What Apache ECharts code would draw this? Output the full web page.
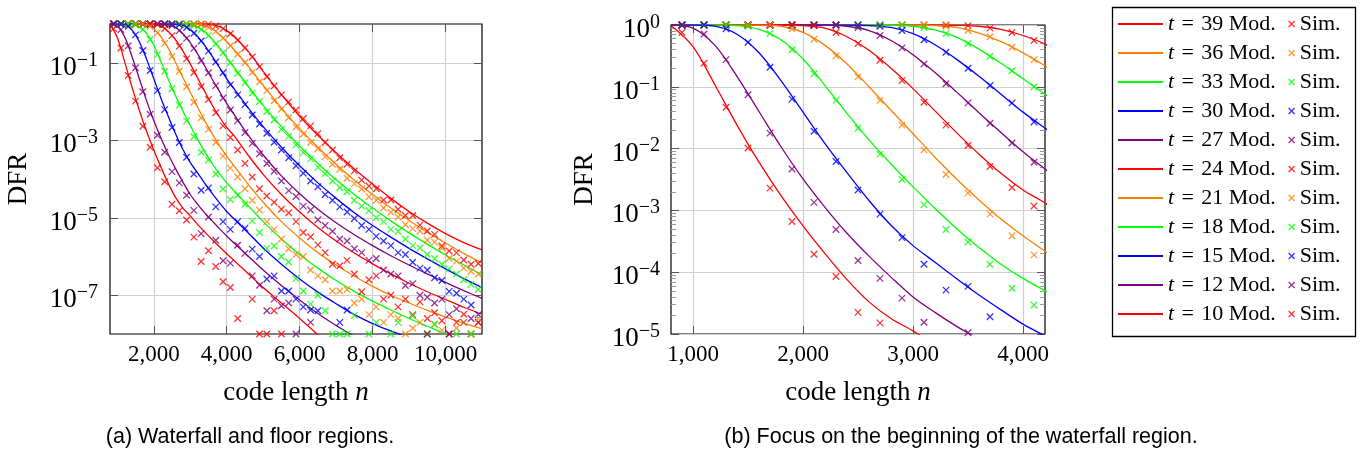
<!DOCTYPE html>
<html><head><meta charset="utf-8">
<script src="https://cdn.jsdelivr.net/npm/echarts@6/dist/echarts.min.js"></script>
<style>html,body{margin:0;padding:0;background:#fff}#c{width:1369px;height:457px}</style>
</head><body><div id="c"></div><script>
// ---------- data (values are log10 of DFR) ----------
const tList = [39, 36, 33, 30, 27, 24, 21, 18, 15, 12, 10];
const nMod = [800,1000,1200,1400,1600,1800,2000,2200,2400,2600,2800,3000,3200,3400,3600,3800,4000,4200,4600,5000,5500,6000,6500,7000,7500,8000,8500,9000,9500,10000,10500,11000];
const nSim = [900,1100,1300,1500,1700,1900,2100,2300,2500,2700,2900,3100,3300,3500,3700,3900,4100,4300,4500,4700,4900,5100,5300,5500,5700,5900,6100,6300,6500,6700,6900,7100,7300,7500,7700,7900,8100,8300,8500,8700,8900,9100,9300,9500,9700,9900,10100,10300,10500,10700,10900];

const mod39 = [0,0,0,0,0,0,0,0,0,0,0,0,0,-0.005,-0.02,-0.07,-0.17,-0.31,-0.72,-1.22,-1.82,-2.38,-2.87,-3.32,-3.74,-4.13,-4.5,-4.84,-5.14,-5.41,-5.64,-5.83];
const mod36 = [0,0,0,0,0,0,0,0,0,0,0,0,-0.01,-0.04,-0.13,-0.27,-0.45,-0.66,-1.1,-1.58,-2.17,-2.7,-3.18,-3.62,-4.03,-4.4,-4.75,-5.07,-5.37,-5.65,-5.92,-6.17];
const mod33 = [0,0,0,0,0,0,0,0,0,0,0,-0.02,-0.08,-0.2,-0.39,-0.62,-0.87,-1.12,-1.62,-2.1,-2.65,-3.15,-3.6,-4.02,-4.4,-4.75,-5.08,-5.39,-5.68,-5.96,-6.22,-6.47];
const mod30 = [0,0,0,0,0,0,0,0,0,-0.01,-0.04,-0.14,-0.32,-0.56,-0.83,-1.12,-1.41,-1.67,-2.18,-2.65,-3.18,-3.66,-4.1,-4.5,-4.87,-5.2,-5.5,-5.79,-6.06,-6.32,-6.57,-6.8];
const mod27 = [0,0,0,0,0,0,0,0,-0.02,-0.09,-0.25,-0.48,-0.77,-1.09,-1.42,-1.74,-2.05,-2.33,-2.88,-3.38,-3.92,-4.38,-4.78,-5.13,-5.44,-5.72,-5.98,-6.22,-6.45,-6.67,-6.88,-7.08];
const mod24 = [0,0,0,0,0,0,-0.01,-0.05,-0.19,-0.41,-0.7,-1.03,-1.39,-1.75,-2.09,-2.4,-2.67,-2.88,-3.4,-3.88,-4.4,-4.85,-5.25,-5.6,-5.91,-6.19,-6.45,-6.69,-6.91,-7.11,-7.31,-7.49];
const mod21 = [0,0,0,0,0,-0.02,-0.12,-0.33,-0.63,-1.0,-1.38,-1.76,-2.14,-2.5,-2.83,-3.14,-3.41,-3.66,-4.15,-4.6,-5.1,-5.52,-5.9,-6.22,-6.51,-6.77,-7.0,-7.2,-7.39,-7.56,-7.72,-7.87];
const mod18 = [0,0,0,-0.01,-0.07,-0.24,-0.55,-0.98,-1.43,-1.86,-2.25,-2.62,-2.97,-3.3,-3.6,-3.87,-4.1,-4.3,-4.7,-5.1,-5.55,-5.95,-6.3,-6.62,-6.9,-7.15,-7.38,-7.6,-7.8,-8.0,-8.2];
const mod15 = [0,0,-0.02,-0.15,-0.45,-0.9,-1.41,-1.92,-2.39,-2.84,-3.24,-3.57,-3.84,-4.11,-4.37,-4.61,-4.84,-5.03,-5.4,-5.78,-6.2,-6.58,-6.92,-7.22,-7.5,-7.73,-7.92,-8.1];
const mod12 = [0,-0.05,-0.33,-0.83,-1.4,-1.97,-2.49,-2.95,-3.37,-3.74,-4.08,-4.4,-4.65,-4.88,-5.08,-5.28,-5.47,-5.65,-6.0,-6.35,-6.75,-7.12,-7.47,-7.78,-8.06];
const mod10 = [-0.01,-0.35,-0.97,-1.62,-2.22,-2.76,-3.25,-3.7,-4.12,-4.48,-4.75,-4.95,-5.17,-5.37,-5.56,-5.75,-5.93,-6.1,-6.45,-6.8,-7.2,-7.6,-8.02];

const sim39 = [0,0,0,0,0,0,0,0,0,0,0,0,0,-0.01,-0.05,-0.12,-0.25,-0.42,-0.62,-0.85,-1.1,-1.36,-1.6,-1.83,-2.01,-2.22,-2.44,-2.63,-2.83,-3.05,-3.25,-3.45,-3.62,-3.79,-4.03,-4.18,-4.25,-4.54,-4.54,-4.78,-4.94,-4.94,-5.19,-5.34,-5.43,-5.73,-5.86,-5.9,-6.09,-6.2,-6.18];
const sim36 = [0,0,0,0,0,0,0,0,0,0,0,0,-0.02,-0.09,-0.19,-0.36,-0.56,-0.78,-1.0,-1.25,-1.49,-1.72,-1.98,-2.2,-2.42,-2.66,-2.84,-3.06,-3.22,-3.43,-3.62,-3.75,-3.98,-4.12,-4.26,-4.46,-4.55,-4.75,-4.86,-4.98,-5.18,-5.28,-5.34,-5.58,-5.63,-5.78,-6.05,-6.12,-6.3,-6.38,-6.45];
const sim33 = [0,0,0,0,0,0,0,0,0,0,0,-0.04,-0.14,-0.30,-0.51,-0.74,-1.0,-1.27,-1.52,-1.78,-2.0,-2.26,-2.47,-2.72,-2.9,-3.12,-3.32,-3.48,-3.7,-3.86,-4.05,-4.22,-4.33,-4.55,-4.7,-4.82,-5.0,-5.1,-5.3,-5.35,-5.55,-5.72,-5.78,-5.95,-6.05,-6.2,-6.32,-6.45,-6.6,-6.72,-6.85];
const sim30 = [0,0,0,0,0,0,0,0,0,-0.02,-0.09,-0.24,-0.44,-0.70,-0.98,-1.26,-1.57,-1.83,-2.08,-2.35,-2.58,-2.82,-3.05,-3.25,-3.45,-3.66,-3.85,-4.05,-4.2,-4.4,-4.55,-4.72,-4.85,-5.02,-5.2,-5.3,-5.48,-5.6,-5.72,-5.9,-5.95,-6.15,-6.3,-6.35,-6.55,-6.62,-6.9,-6.95,-7.1,-7.25,-7.5];
const sim27 = [0,0,0,0,0,0,0,0,-0.04,-0.17,-0.37,-0.63,-0.95,-1.26,-1.59,-1.91,-2.22,-2.5,-2.8,-3.08,-3.35,-3.6,-3.8,-4.05,-4.3,-4.45,-4.7,-4.8,-5.05,-5.2,-5.35,-5.55,-5.6,-5.8,-5.9,-6.1,-6.05,-6.35,-6.45,-6.5,-6.75,-6.7,-7.0,-7.05,-7.2,-7.1,-7.5,-7.35,-7.7,-7.6,-7.7];
const sim24 = [0,0,0,0,0,0,-0.01,-0.12,-0.30,-0.57,-0.90,-1.25,-1.62,-1.95,-2.29,-2.63,-2.93,-3.25,-3.6,-3.95,-4.25,-4.44,-4.6,-4.78,-4.87,-5.1,-5.38,-5.49,-5.7,-5.9,-6.2,-6.24,-6.1,-6.45,-6.91,-6.6,-6.5,-7.1,-7.0,-7.3,-7.1,-7.5,-7.17,-7.6,-7.45,-7.66,-8.0,-7.7,-7.49,-8.0,-7.7];
const sim21 = [0,0,0,0,0,-0.06,-0.23,-0.50,-0.84,-1.22,-1.62,-2.02,-2.42,-2.72,-3.06,-3.41,-3.72,-3.95,-4.25,-4.55,-4.8,-5.1,-5.3,-5.55,-5.8,-5.95,-6.0,-6.35,-6.5,-6.6,-6.89,-6.89,-6.85,-7.2,-7.1,-7.5,-7.3,-7.7,-7.5,-7.6,-8.0,-7.85,-7.7,-8.0,-7.75,-7.9,null,-7.85,-7.7,-8.0,-7.6];
const sim18 = [0,0,0,-0.02,-0.14,-0.40,-0.79,-1.22,-1.67,-2.09,-2.50,-2.91,-3.31,-3.51,-3.87,-4.26,-4.53,-4.42,-4.65,-5.08,-5.38,-5.79,-5.73,-6.0,-6.14,-6.57,-6.89,-7.23,-7.0,-7.4,-8,-8,-8,-7.52,null,-8,-7.7,null,-8,-7.7,null,-7.53,null,-8,-7.75,null,null,-8,null,-8];
const sim15 = [0,0,-0.06,-0.28,-0.685,-1.20,-1.72,-2.21,-2.67,-3.06,-3.44,-3.87,-4.29,-4.23,-4.72,-5.1,-5.3,-5.1,-5.27,-5.81,-6.0,-6.58,-6.5,-6.89,-6.89,-7.1,-7.3,-7.38,-7.4,null,null,-7.7,-7.38];
const sim12 = [0,-0.146,-0.56,-1.13,-1.75,-2.33,-2.87,-3.31,-3.81,-4.10,-4.42,-4.81,-5.41,-4.98,-5.58,-6.11,-6.17,-5.71,-5.92,-6.5,-6.74,-7.4,-7.1,-7.27,-7.2,-8,null,-7.7,null,null,null,null,null,null,null,null,null,null,null,null,null,null,null,-8,null,null,-8];
const sim10 = [-0.12,-0.62,-1.33,-1.99,-2.64,-3.18,-3.71,-4.07,-4.65,-4.82,-5.06,-5.5,-6.13,-5.85,-6.26,-6.65,-6.8,-7.6,null,-7.1,-8,-8,-7.4,-8];

const leftXTicks = [2000, 4000, 6000, 8000, 10000];
const leftYTicks = [1e-7, 1e-5, 1e-3, 1e-1];
const rightXTicks = [1000, 2000, 3000, 4000];

// ---------- styling ----------
const serif = '"Liberation Serif","Times New Roman",serif';
const sans = '"Liberation Sans",Arial,sans-serif';
const palette = ['#ff0000','#ff8000','#00ff00','#0000ff','#800080','#ff0000','#ff8000','#00ff00','#0000ff','#800080','#ff0000'];
const modArrays = [mod39, mod36, mod33, mod30, mod27, mod24, mod21, mod18, mod15, mod12, mod10];
const simArrays = [sim39, sim36, sim33, sim30, sim27, sim24, sim21, sim18, sim15, sim12, sim10];
const modNames = tList.map(t => 't = ' + t + ' Mod.');
const simNames = tList.map((t, i) => 'Sim.' + '\u200b'.repeat(i + 1));
const crossPath = 'path://M0,0L10,10M10,0L0,10';

function toPairs(ns, logs) {
  const out = [];
  logs.forEach((v, i) => { if (v !== null && v !== undefined) out.push([ns[i], Math.pow(10, v)]); });
  return out;
}
function fmtK(v) { return String(v).replace(/\B(?=(\d{3})+(?!\d))/g, ','); }
function fmtPow(v) {
  const e = Math.round(Math.log10(v));
  return '{b|10}{s|' + (e < 0 ? '\u2212' + (-e) : String(e)) + '}';
}
const powRich = {
  b: { fontFamily: serif, fontSize: 27, color: '#000', verticalAlign: 'bottom', padding: [10, 0, 0, 0] },
  s: { fontFamily: serif, fontSize: 20, color: '#000', verticalAlign: 'bottom', padding: [0, 0, 11, 0] }
};
const gridLine = { show: true, lineStyle: { color: '#cfcfcf', width: 1.2 } };
const tickStyle = { show: true, inside: true, length: 8, lineStyle: { color: '#555', width: 1 } };
const nameRich = {
  r: { fontFamily: serif, fontSize: 27, color: '#000' },
  i: { fontFamily: serif, fontStyle: 'italic', fontSize: 27, color: '#000' }
};

const xAxes = [
  { gridIndex: 0, type: 'value', min: 800, max: 11000, position: 'bottom',
    axisLine: { show: false }, splitLine: gridLine,
    axisTick: Object.assign({ customValues: leftXTicks }, tickStyle),
    axisLabel: { customValues: leftXTicks, formatter: fmtK, fontFamily: serif, fontSize: 23, color: '#000', margin: 9 },
    name: '{r|code length }{i|n}', nameLocation: 'middle', nameGap: 45, nameTextStyle: { rich: nameRich } },
  { gridIndex: 0, type: 'value', min: 800, max: 11000, position: 'top',
    axisLine: { show: false }, splitLine: { show: false }, axisLabel: { show: false },
    axisTick: Object.assign({ customValues: leftXTicks }, tickStyle) },
  { gridIndex: 1, type: 'value', min: 800, max: 4200, position: 'bottom',
    axisLine: { show: false }, splitLine: gridLine,
    axisTick: Object.assign({ customValues: rightXTicks }, tickStyle),
    axisLabel: { customValues: rightXTicks, formatter: fmtK, fontFamily: serif, fontSize: 23, color: '#000', margin: 9 },
    name: '{r|code length }{i|n}', nameLocation: 'middle', nameGap: 45, nameTextStyle: { rich: nameRich } },
  { gridIndex: 1, type: 'value', min: 800, max: 4200, position: 'top',
    axisLine: { show: false }, splitLine: { show: false }, axisLabel: { show: false },
    axisTick: Object.assign({ customValues: rightXTicks }, tickStyle) }
];
const minorT = { show: true, splitNumber: 9, length: 5, lineStyle: { color: '#999', width: 1 } };
const yAxes = [
  { gridIndex: 0, type: 'log', min: 1e-8, max: 1, position: 'left',
    axisLine: { show: false }, splitLine: gridLine,
    axisTick: Object.assign({ customValues: leftYTicks }, tickStyle),
    axisLabel: { customValues: leftYTicks, formatter: fmtPow, rich: powRich, margin: 12 },
    name: 'DFR', nameLocation: 'middle', nameRotate: 90, nameGap: 78,
    nameTextStyle: { fontFamily: serif, fontSize: 27, color: '#000' } },
  { gridIndex: 0, type: 'log', min: 1e-8, max: 1, position: 'right',
    axisLine: { show: false }, splitLine: { show: false }, axisLabel: { show: false },
    axisTick: Object.assign({ customValues: leftYTicks }, tickStyle) },
  { gridIndex: 1, type: 'log', min: 1e-5, max: 1, position: 'left',
    axisLine: { show: false }, splitLine: gridLine, axisTick: tickStyle, minorTick: minorT,
    axisLabel: { formatter: fmtPow, rich: powRich, margin: 11 },
    name: 'DFR', nameLocation: 'middle', nameRotate: 90, nameGap: 73,
    nameTextStyle: { fontFamily: serif, fontSize: 27, color: '#000' } },
  { gridIndex: 1, type: 'log', min: 1e-5, max: 1, position: 'right',
    axisLine: { show: false }, splitLine: { show: false }, axisLabel: { show: false },
    axisTick: tickStyle, minorTick: minorT }
];

const series = [];
[0, 1].forEach(g => {
  tList.forEach((t, i) => {
    series.push({
      type: 'line', name: modNames[i], xAxisIndex: g * 2, yAxisIndex: g * 2,
      data: toPairs(nMod, modArrays[i]), symbol: 'none', smooth: 0.3,
      clip: true, lineStyle: { color: palette[i], width: 1.3 }, itemStyle: { color: palette[i] },
      silent: true, z: 2
    });
    series.push({
      type: 'scatter', name: simNames[i], xAxisIndex: g * 2, yAxisIndex: g * 2,
      data: toPairs(nSim, simArrays[i]), symbol: crossPath, symbolSize: 6.5, clip: true,
      itemStyle: { color: palette[i], borderColor: palette[i], borderWidth: 1.3 },
      silent: true, z: 3
    });
  });
});

const legText = { fontFamily: serif, fontSize: 22, lineHeight: 22, color: '#000',
  rich: { it: { fontFamily: serif, fontStyle: 'italic', fontSize: 22, color: '#000' } } };

const option = {
  animation: false,
  backgroundColor: '#fff',
  grid: [
    { left: 110, top: 24, width: 372, height: 310, show: true, borderColor: '#000', borderWidth: 1.2, backgroundColor: 'transparent' },
    { left: 671, top: 25, width: 374, height: 309, show: true, borderColor: '#000', borderWidth: 1.2, backgroundColor: 'transparent' }
  ],
  xAxis: xAxes,
  yAxis: yAxes,
  legend: [
    { data: modNames, orient: 'vertical', left: 1118, top: 13, padding: 0, itemWidth: 45, itemHeight: 2, itemGap: 7,
      icon: 'rect', selectedMode: false, textStyle: legText,
      formatter: name => name.replace(/^t = /, '{it|t}\u2004=\u2004') },
    { data: simNames, orient: 'vertical', left: 1288, top: 13, padding: 0, itemWidth: 6, itemHeight: 6, itemGap: 7,
      selectedMode: false, textStyle: legText, itemStyle: { borderWidth: 1.3 },
      formatter: () => 'Sim.' }
  ],
  graphic: [
    { type: 'rect', left: 1110, top: 5, shape: { width: 243, height: 329 }, style: { fill: 'none', stroke: '#000', lineWidth: 1.3 } },
    { type: 'text', x: 250, y: 437, style: { text: '(a) Waterfall and floor regions.', font: '21.5px ' + sans, fill: '#000', textAlign: 'center', textVerticalAlign: 'middle' } },
    { type: 'text', x: 961, y: 437, style: { text: '(b) Focus on the beginning of the waterfall region.', font: '21.5px ' + sans, fill: '#000', textAlign: 'center', textVerticalAlign: 'middle' } }
  ],
  series: series
};
const chart = echarts.init(document.getElementById('c'));
chart.setOption(option);
</script></body></html>
